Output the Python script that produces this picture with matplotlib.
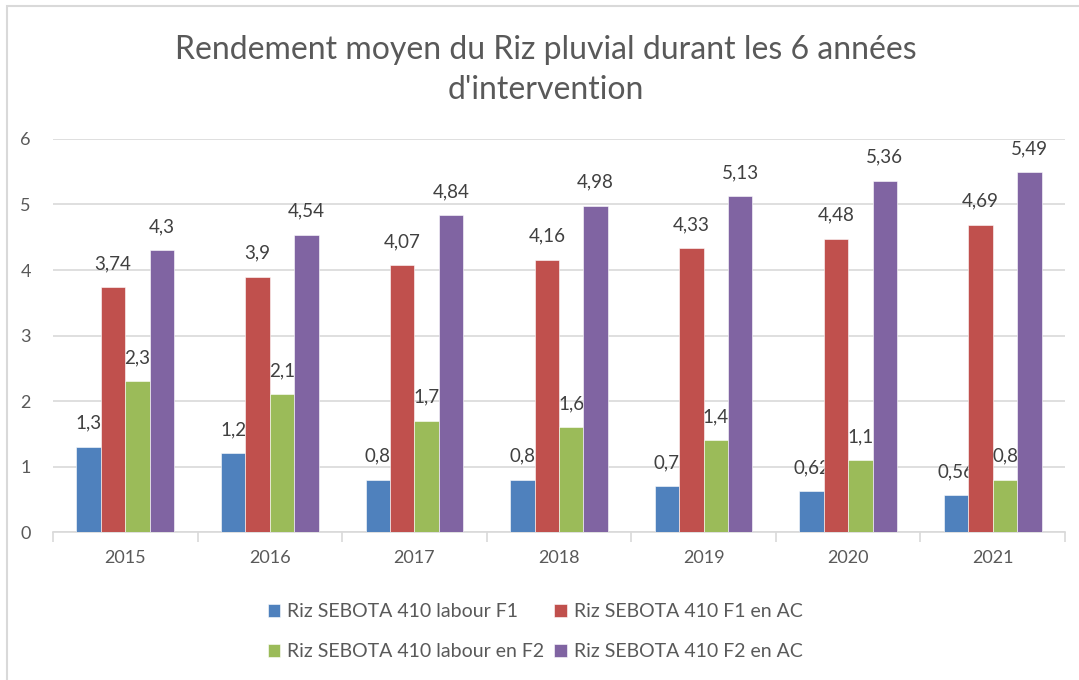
import numpy as np
import matplotlib.pyplot as plt
from matplotlib.patches import Rectangle

years = ['2015', '2016', '2017', '2018', '2019', '2020', '2021']
series_names = [
    'Riz SEBOTA 410 labour F1',
    'Riz SEBOTA 410 F1 en AC',
    'Riz SEBOTA 410 labour en F2',
    'Riz SEBOTA 410 F2 en AC',
]
labour_f1 = [1.3, 1.2, 0.8, 0.8, 0.7, 0.62, 0.56]
f1_ac = [3.74, 3.9, 4.07, 4.16, 4.33, 4.48, 4.69]
labour_f2 = [2.3, 2.1, 1.7, 1.6, 1.4, 1.1, 0.8]
f2_ac = [4.3, 4.54, 4.84, 4.98, 5.13, 5.36, 5.49]
colors = ['#4F81BD', '#C0504D', '#9BBB59', '#8064A2']

plt.rcParams['font.family'] = ['Lato', 'DejaVu Sans']

fig = plt.figure(figsize=(10.79, 6.8), dpi=100)
ax = fig.add_axes([0.0491, 0.2176, 0.938, 0.578])

x = np.arange(len(years))
w = 0.169
all_series = [labour_f1, f1_ac, labour_f2, f2_ac]
for i, (vals, name, c) in enumerate(zip(all_series, series_names, colors)):
    pos = x + (i - 1.5) * w
    ax.bar(pos, vals, w, color=c, label=name, zorder=3,
           edgecolor='white', linewidth=0.4)
    for px, v in zip(pos, vals):
        ax.annotate(f'{v:g}'.replace('.', ','), (px, v), xytext=(0, 13),
                    textcoords='offset points', ha='center', va='baseline',
                    fontsize=13.5, color='#404040')

ax.set_xlim(-0.5, 6.5)
ax.set_ylim(0, 6)
ax.set_yticks(range(7))
ax.yaxis.grid(True, color='#D9D9D9', linewidth=1.2, zorder=0)
ax.set_xticks(x)
ax.set_xticklabels(years)
ax.set_xticks(np.arange(-0.5, 7, 1), minor=True)
ax.tick_params(axis='x', which='major', length=0, pad=13, labelsize=13, labelcolor='#595959')
ax.tick_params(axis='x', which='minor', length=7, color='#D9D9D9', width=1.2)
ax.tick_params(axis='y', length=0, pad=16, labelsize=13, labelcolor='#595959')
for s in ['top', 'right', 'left']:
    ax.spines[s].set_visible(False)
ax.spines['bottom'].set_color('#D9D9D9')
ax.spines['bottom'].set_linewidth(1.2)

fig.text(0.506, 0.897, "Rendement moyen du Riz pluvial durant les 6 années\nd'intervention",
         ha='center', va='center', fontsize=23, color='#595959', linespacing=1.4)

handles, labels = ax.get_legend_handles_labels()
order = [0, 2, 1, 3]
fig.legend([handles[k] for k in order], [labels[k] for k in order], ncol=2,
           loc='center', bbox_to_anchor=(0.496, 0.071),
           frameon=False, fontsize=14, labelcolor='#595959',
           handlelength=0.65, handleheight=0.65, handletextpad=0.36,
           columnspacing=0.5, labelspacing=1.2)

fig.add_artist(Rectangle((7 / 1079, -0.1), 1.2, 1.1 - 6 / 680,
                         transform=fig.transFigure, fill=False,
                         edgecolor='#D9D9D9', linewidth=1.5))

fig.savefig('out.png', dpi=100, facecolor='white')
